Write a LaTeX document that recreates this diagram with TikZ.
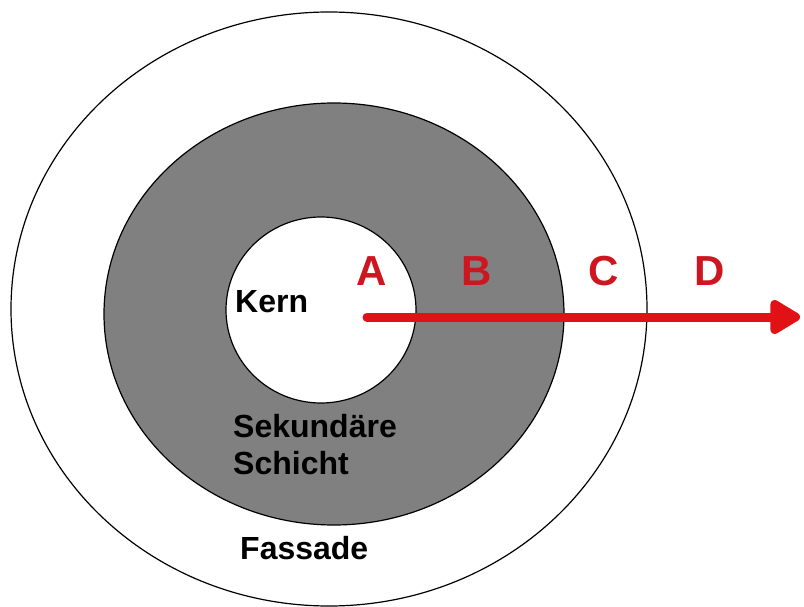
\documentclass[tikz,border=0pt]{standalone}
\usepackage{xcolor}
\usepackage{fontspec}
\setmainfont{Liberation Sans}
\usepackage{tikz}
\usetikzlibrary{arrows.meta}

\definecolor{layergray}{RGB}{128,128,128}
\definecolor{arrowred}{RGB}{225,18,22}
\definecolor{letterred}{RGB}{205,22,32}

\begin{document}
\begin{tikzpicture}[x=1pt, y=-1pt,
    layer/.style={font=\fontsize{32}{36}\selectfont\bfseries, inner sep=0pt, anchor=base west},
    zone/.style={font=\fontsize{42}{46}\selectfont\bfseries, text=letterred, inner sep=0pt, anchor=base}]
    \useasboundingbox (0, 0) rectangle (804, 607);

    % rings
    \draw[line width=1.2pt] (329, 309) ellipse [x radius=318, y radius=297];
    \draw[line width=1.2pt, fill=layergray] (334, 314) ellipse [x radius=230, y radius=211];
    \draw[line width=1.2pt, fill=white] (321, 310) ellipse [x radius=95, y radius=93];

    % labels
    \node[layer] at (235, 312) (kern) {Kern};
    \node[layer] at (233, 437) (sek) {Sekundäre};
    \node[layer] at (233, 474) (schicht) {Schicht};
    \node[layer] at (240, 559) (fassade) {Fassade};

    \node[zone] at (372, 285) (A) {A};
    \node[zone] at (477, 285) (B) {B};
    \node[zone] at (604, 285) (C) {C};
    \node[zone] at (710, 285) (D) {D};

    % arrow
    \coordinate (start) at (367, 317);
    \coordinate (tip) at (800, 317);
    \draw[arrowred, line width=9pt, line cap=round,
        -{Triangle[length=34pt, width=38pt, round]}] (start) -- (tip);
\end{tikzpicture}
\end{document}
